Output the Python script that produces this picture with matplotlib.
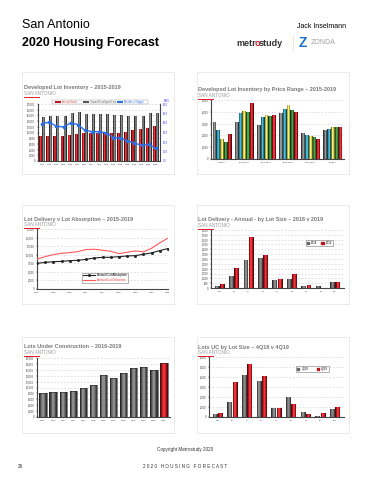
import numpy as np
import matplotlib
matplotlib.use('Agg')
from matplotlib import pyplot as plt
from matplotlib import colors as mcolors
from matplotlib.patches import Rectangle

plt.rcParams['font.family'] = ['Liberation Sans', 'DejaVu Sans']

# --- data -------------------------------------------------------------------
inv_quarters = ['4Q15', '1Q16', '2Q16', '3Q16', '4Q16', '1Q17', '2Q17', '3Q17', '4Q17',
                '1Q18', '2Q18', '3Q18', '4Q18', '1Q19', '2Q19', '3Q19', '4Q19']
inv_starts = [8700, 8700, 8900, 8900, 9000, 9400, 9800, 9800, 10000,
              9800, 10000, 10000, 10200, 10900, 11200, 11700, 12200]
inv_vacant = [15600, 15900, 15900, 15800, 16700, 17100, 16400, 16400, 16400,
              16400, 16100, 16100, 15900, 15900, 15900, 16700, 16800]
inv_mos = [39.4, 40.8, 36.7, 35.8, 40.1, 38.4, 32.4, 30.9, 30.9,
           29.8, 24.7, 24.7, 21.3, 18.9, 16.5, 17.5, 13.3]

price_ranges = ['<$200K', '$200-250K', '$250-300K', '$300-400K', '$400-500K', '$500K+']
price_years = ['2015', '2016', '2017', '2018', '2019']
price_values = [
    [3150, 3150, 2870, 3860, 2220, 2440],
    [2500, 3920, 3580, 4200, 2020, 2560],
    [1730, 4060, 3720, 4570, 1930, 2700],
    [1420, 3980, 3640, 4150, 1850, 2700],
    [2160, 4720, 3720, 3980, 1730, 2730],
]

deliv_quarters = ['4Q15', '1Q16', '2Q16', '3Q16', '4Q16', '1Q17', '2Q17', '3Q17', '4Q17',
                  '1Q18', '2Q18', '3Q18', '4Q18', '1Q19', '2Q19', '3Q19', '4Q19']
absorption = [7470, 7770, 7960, 8060, 8260, 8360, 8650, 9040, 9240,
              9240, 9440, 9630, 9730, 10130, 10520, 11210, 11800]
deliveries = [8750, 9440, 10030, 10420, 10620, 10910, 11500, 11600, 11310,
              11010, 10320, 10720, 11110, 10820, 11900, 13470, 14840]

lot_sizes = ["<40'", "40'", "45'", "50'", "55'", "60'", "65'", "70'", "80'+"]
deliv_2018 = [212, 1235, 2894, 3070, 776, 918, 212, 212, 670]
deliv_2019 = [424, 2118, 5259, 3424, 918, 1482, 353, 35, 670]

uc_quarters = ['4Q16', '1Q17', '2Q17', '3Q17', '4Q17', '1Q18', '2Q18',
               '3Q18', '4Q18', '1Q19', '2Q19', '3Q19', '4Q19']
uc_lots = [8090, 8320, 8560, 8900, 9830, 10980, 14100, 13300, 14800, 16530, 16990, 15950, 18150]

uc_4q18 = [310, 1530, 4170, 3630, 950, 1990, 510, 100, 760]
uc_4q19 = [410, 3460, 5320, 4130, 920, 1320, 270, 410, 980]

GREY = '#666666'
RED = '#c0141c'
PRICE_COLORS = ['#6e6e6e', '#2a8fa8', '#c8c24a', '#2f7a2f', '#c0141c']


def px(x0, y0, x1, y1):
    # pixel box -> figure fraction rect
    return [x0 / 371, 1 - y1 / 480, (x1 - x0) / 371, (y1 - y0) / 480]


def fig_rect(fig, x0, y0, w, h, **kw):
    r = Rectangle((x0 / 371, 1 - (y0 + h) / 480), w / 371, h / 480,
                  transform=fig.transFigure, **kw)
    fig.patches.append(r)
    return r


def shaded_bars(ax, x, heights, width, color, layers=6):
    base = np.array(mcolors.to_rgb(color))
    dark = base * 0.45
    ax.bar(x, heights, width, color=dark, edgecolor='none', zorder=2)
    for i in range(1, layers):
        f = i / layers
        c = dark + (np.minimum(base * 1.25, 1) - dark) * f
        c = np.clip(c + 0.18 * f ** 3, 0, 1)
        ax.bar(x, heights, width * (1 - 0.85 * f), color=c, edgecolor='none', zorder=2)


def style_axes(ax, ymax, step, fmt='{:,.0f}'):
    ax.set_ylim(0, ymax)
    ax.set_yticks(np.arange(0, ymax + 1, step))
    ax.set_yticklabels([fmt.format(v) for v in np.arange(0, ymax + 1, step)])
    ax.tick_params(labelsize=1.8, length=1, width=0.3, pad=1, colors='#333333')
    ax.grid(axis='y', linestyle=(0, (3, 3)), linewidth=0.4, color='#c8c8c8', zorder=0)
    ax.set_axisbelow(True)
    for s in ['top', 'right']:
        ax.spines[s].set_visible(False)
    for s in ['left', 'bottom']:
        ax.spines[s].set_linewidth(0.8)
        ax.spines[s].set_color('#444444')


def panel_title(fig, x, y, title):
    fig.text(x / 371, 1 - y / 480, title, fontsize=4.0, fontweight='bold', color='#7a7a7a',
             va='center', ha='left')
    fig.text(x / 371, 1 - (y + 5.5) / 480, 'SAN ANTONIO', fontsize=3.3, color='#9a9a9a',
             va='center', ha='left')
    fig_rect(fig, x, y + 8.5, 16, 1.0, facecolor='#e0202a', linewidth=0, zorder=5)


def card(fig, x0, y0, x1, y1):
    fig_rect(fig, x0 + 1, y0 + 1, x1 - x0, y1 - y0, facecolor='#ededed', linewidth=0,
             zorder=-2)
    fig_rect(fig, x0, y0, x1 - x0, y1 - y0, facecolor='white', edgecolor='#e4e4e4',
             linewidth=0.5, zorder=-1)


fig = plt.figure(figsize=(3.71, 4.80), dpi=100)
fig.patch.set_facecolor('white')

# header
fig.text(22 / 371, 1 - 25 / 480, 'San Antonio', fontsize=9, color='black', va='center')
fig.text(22 / 371, 1 - 43 / 480, '2020 Housing Forecast', fontsize=9, fontweight='bold',
         color='black', va='center')
fig.text(346 / 371, 1 - 27 / 480, 'Jack Inselmann', fontsize=5, color='black', va='center',
         ha='right')
fig.text(236 / 371, 1 - 43 / 480, 'metr', fontsize=6.5, fontweight='bold', color='#333333',
         va='center', ha='left')
fig.text(254.5 / 371, 1 - 43 / 480, 'o', fontsize=6.5, fontweight='bold', color='#d0202a',
         va='center', ha='left')
fig.text(258.5 / 371, 1 - 43 / 480, 'study', fontsize=6.5, fontweight='bold', color='#333333',
         va='center', ha='left')
fig.lines.append(plt.Line2D([293 / 371, 293 / 371], [1 - 36 / 480, 1 - 50 / 480],
                            transform=fig.transFigure, color='#dddddd', linewidth=0.5))
fig.text(299 / 371, 1 - 43 / 480, 'Z', fontsize=10, fontweight='bold', color='#1f6fd0',
         va='center', ha='left')
fig.text(311 / 371, 1 - 43 / 480, 'ZONDA', fontsize=5, color='#a0a0a0', va='center',
         ha='left')

# cards
for cx0, cx1 in [(22, 174), (197, 349)]:
    for cy0, cy1 in [(72, 174), (205, 304), (337, 433)]:
        card(fig, cx0, cy0, cx1, cy1)

# --- panel 1: developed lot inventory -----------------------------------------
ax1 = fig.add_axes(px(38, 104, 160, 161))
x = np.arange(len(inv_quarters))
shaded_bars(ax1, x - 0.21, inv_starts, 0.42, RED)
shaded_bars(ax1, x + 0.21, inv_vacant, 0.42, GREY)
style_axes(ax1, 20000, 2000)
ax1.set_xlim(-0.6, len(x) - 0.4)
ax1.set_xticks(x)
ax1.set_xticklabels(inv_quarters)
ax1.tick_params(axis='x', labelsize=1.5)
ax1b = ax1.twinx()
ax1b.plot(x, inv_mos, color='#2a6ee8', linewidth=1.0, marker='o', markersize=1.6, zorder=4)
ax1b.set_ylim(0, 60)
ax1b.set_yticks(np.arange(0, 61, 10))
ax1b.set_yticklabels(['{:.1f}'.format(v) for v in np.arange(0, 61, 10)])
ax1b.tick_params(labelsize=1.8, length=1, width=0.3, pad=1, colors='#3030ff')
for s in ['top', 'left', 'bottom']:
    ax1b.spines[s].set_visible(False)
ax1b.spines['right'].set_linewidth(0.8)
ax1b.spines['right'].set_color('#444444')
fig_rect(fig, 52, 100.5, 96, 3.5, facecolor='white', edgecolor='#999999', linewidth=0.3,
         zorder=6)
for lx, lab, col in [(55, 'Annual Starts', RED), (83, 'Vacant Developed Lots', '#555555'),
                     (117, 'Months of Supply', '#2a6ee8')]:
    fig_rect(fig, lx, 101.5, 6, 1.5, facecolor=col, linewidth=0, zorder=7)
    fig.text((lx + 7) / 371, 1 - 102.3 / 480, lab, fontsize=1.8,
             color=col if col != RED else '#e05050', va='center', zorder=7)
ax1b.text(1.03, 1.04, 'MOS', transform=ax1b.transAxes, fontsize=1.8, color='#3030ff')
panel_title(fig, 24, 88, 'Developed Lot Inventory \u2013 2015-2019')

# --- panel 2: by price range --------------------------------------------------
ax2 = fig.add_axes(px(211, 100, 344, 159))
x = np.arange(len(price_ranges))
w = 0.17
for i, vals in enumerate(price_values):
    shaded_bars(ax2, x + (i - 2) * w, vals, w, PRICE_COLORS[i])
style_axes(ax2, 5000, 1000)
ax2.set_xlim(-0.5, len(x) - 0.5)
ax2.set_xticks(x)
ax2.set_xticklabels(price_ranges)
ax2.tick_params(axis='x', labelsize=1.6)
panel_title(fig, 198, 90, 'Developed Lot Inventory by Price Range \u2013 2015-2019')

# --- panel 3: delivery vs absorption -----------------------------------------
ax3 = fig.add_axes(px(37, 229, 168, 289))
x = np.arange(len(deliv_quarters))
ax3.plot(x, absorption, color='#222222', linewidth=0.8, marker='s', markersize=1.0, zorder=3,
         label='Annual Lot Absorption')
ax3.plot(x, deliveries, color='#ff5a5a', linewidth=0.8, zorder=3,
         label='Annual Lot Deliveries')
style_axes(ax3, 17500, 2500)
ax3.set_xlim(0, len(x) - 1)
ax3.set_xticks(x[::2])
ax3.set_xticklabels(deliv_quarters[::2])
ax3.tick_params(axis='x', labelsize=1.6)
leg = ax3.legend(loc='lower center', bbox_to_anchor=(0.52, 0.08), fontsize=2.2, ncol=1,
                 frameon=True, fancybox=False, handlelength=4, borderpad=0.3,
                 labelspacing=0.1)
leg.get_frame().set_linewidth(0.4)
leg.get_frame().set_edgecolor('#555555')
leg.get_texts()[1].set_color('#ff3030')
panel_title(fig, 24, 219, 'Lot Delivery v Lot Absorption \u2013 2015-2019')

# --- panel 4: deliveries by lot size -----------------------------------------
ax4 = fig.add_axes(px(211, 230, 344, 288))
x = np.arange(len(lot_sizes))
shaded_bars(ax4, x - 0.18, deliv_2018, 0.34, GREY)
shaded_bars(ax4, x + 0.18, deliv_2019, 0.34, RED)
style_axes(ax4, 6000, 500)
ax4.grid(axis='x', linestyle=(0, (1, 3)), linewidth=0.3, color='#dddddd')
ax4.set_xlim(-0.6, len(x) - 0.4)
ax4.set_xticks(x)
ax4.set_xticklabels(lot_sizes)
ax4.tick_params(axis='x', labelsize=1.6)
h4 = [Rectangle((0, 0), 1, 1, color=GREY), Rectangle((0, 0), 1, 1, color=RED)]
leg = ax4.legend(h4, ['2018', '2019'], loc='upper right', bbox_to_anchor=(0.93, 0.85),
                 fontsize=2.0, ncol=2, frameon=True, fancybox=False, handlelength=0.8,
                 handleheight=0.8, borderpad=0.4, columnspacing=1.5)
leg.get_frame().set_linewidth(0.4)
leg.get_frame().set_edgecolor('#555555')
panel_title(fig, 198, 220, 'Lot Delivery - Annual - by Lot Size \u2013 2018 v 2019')

# --- panel 5: lots under construction ----------------------------------------
ax5 = fig.add_axes(px(37, 358, 170, 417))
x = np.arange(len(uc_quarters))
shaded_bars(ax5, x[:-1], uc_lots[:-1], 0.72, GREY)
shaded_bars(ax5, x[-1:], uc_lots[-1:], 0.72, RED)
ax5.bar(x, uc_lots, 0.72, color='none', edgecolor='#222222', linewidth=0.4, zorder=3)
style_axes(ax5, 20000, 2000)
ax5.set_xlim(-0.6, len(x) - 0.4)
ax5.set_xticks(x)
ax5.set_xticklabels(uc_quarters)
ax5.tick_params(axis='x', labelsize=1.6)
panel_title(fig, 24, 347, 'Lots Under Construction \u2013 2016-2019')

# --- panel 6: lots UC by lot size ---------------------------------------------
ax6 = fig.add_axes(px(209, 357, 344, 417))
x = np.arange(len(lot_sizes))
shaded_bars(ax6, x - 0.18, uc_4q18, 0.34, GREY)
shaded_bars(ax6, x + 0.18, uc_4q19, 0.34, RED)
style_axes(ax6, 6000, 1000)
ax6.set_xlim(-0.6, len(x) - 0.4)
ax6.set_xticks(x)
ax6.set_xticklabels(lot_sizes)
ax6.tick_params(axis='x', labelsize=1.6)
leg = ax6.legend(h4, ['4Q18', '4Q19'], loc='upper right', bbox_to_anchor=(0.9, 0.87),
                 fontsize=2.0, ncol=2, frameon=True, fancybox=False, handlelength=0.8,
                 handleheight=0.8, borderpad=0.4, columnspacing=3)
leg.get_frame().set_linewidth(0.4)
leg.get_frame().set_edgecolor('#555555')
panel_title(fig, 198, 347, 'Lots UC by Lot Size \u2013 4Q18 v 4Q19')

# footer
fig.text(185 / 371, 1 - 449 / 480, 'Copyright Metrostudy 2020', fontsize=3.3, color='#333333',
         ha='center', va='center')
fig.text(18 / 371, 1 - 466 / 480, '26', fontsize=3.3, color='#333333', va='center')
fig.text(185 / 371, 1 - 466 / 480, '2 0 2 0   H O U S I N G   F O R E C A S T', fontsize=3.3,
         color='#333333', ha='center', va='center')

fig.savefig('out.png', dpi=100)
